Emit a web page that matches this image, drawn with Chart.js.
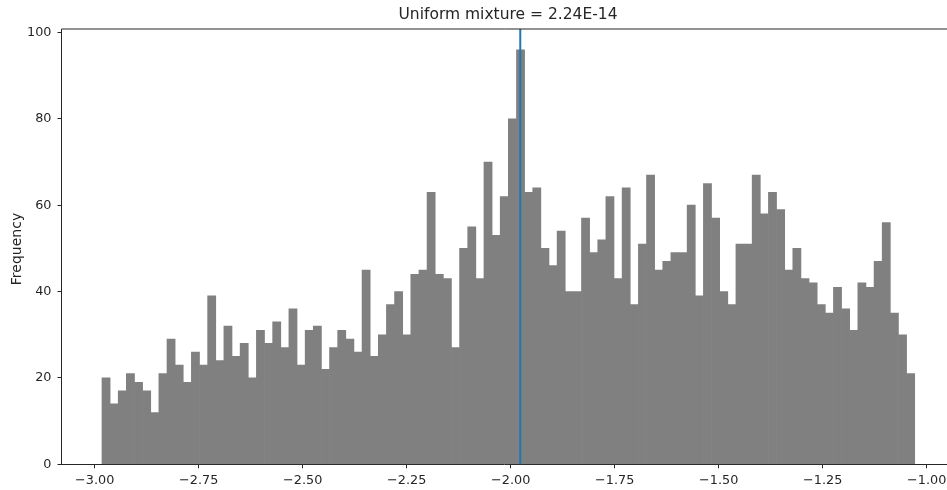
<!DOCTYPE html>
<html lang="en">
<head>
    <meta charset="UTF-8">
    <title>Uniform mixture</title>
    <style>
        body { margin: 0; background: #fff; }
        #wrap { width: 947px; height: 490px; }
    </style>
</head>
<body>
<script src="https://cdn.jsdelivr.net/npm/chart.js"></script>
<div id="wrap"><canvas id="hist"></canvas></div>

<script>
    // histogram counts, 100 equal bins between binLo and binHi
    var counts = [20, 14, 17, 21, 19, 17, 12, 21, 29, 23, 19, 26, 23, 39, 24, 32, 25, 28, 20, 31,
                  28, 33, 27, 36, 23, 31, 32, 22, 27, 31, 29, 26, 45, 25, 30, 37, 40, 30, 44, 45,
                  63, 44, 43, 27, 50, 55, 43, 70, 53, 62, 80, 96, 63, 64, 50, 46, 54, 40, 40, 57,
                  49, 52, 62, 43, 64, 37, 51, 67, 45, 47, 49, 49, 60, 39, 65, 57, 40, 37, 51, 51,
                  67, 58, 63, 59, 45, 50, 43, 42, 37, 35, 41, 36, 31, 42, 41, 47, 56, 35, 30, 21];
    var binLo = -2.9825;
    var binHi = -1.0288;
    var markerX = -1.977;   // vertical line
    var xTicks = [-3.00, -2.75, -2.50, -2.25, -2.00, -1.75, -1.50, -1.25, -1.00];
    var yTicks = [0, 20, 40, 60, 80, 100];
    var titleText = 'Uniform mixture = 2.24E-14';
    var yLabel = 'Frequency';

    var binW = (binHi - binLo) / counts.length;
    var points = [];
    for (var i = 0; i < counts.length; i++) {
        points.push({x: binLo + binW * (i + 0.5), y: counts[i]});
    }

    var FONT = 'DejaVu Sans';
    var INK = '#262626';

    function minusFmt(v, dec) {
        var s = Math.abs(v).toFixed(dec);
        return v < 0 ? '\u2212' + s : s;
    }

    var extras = {
        id: 'extras',
        afterDatasetsDraw: function (chart) {
            var ctx = chart.ctx, a = chart.chartArea, xs = chart.scales.x;
            ctx.save();
            // vertical marker
            var px = xs.getPixelForValue(markerX);
            ctx.strokeStyle = '#1f77b4';
            ctx.lineWidth = 2;
            ctx.beginPath();
            ctx.moveTo(px, a.top);
            ctx.lineTo(px, a.bottom);
            ctx.stroke();
            // top spine
            ctx.strokeStyle = INK;
            ctx.lineWidth = 1;
            ctx.beginPath();
            ctx.moveTo(a.left, a.top);
            ctx.lineTo(a.right, a.top);
            ctx.stroke();
            // title
            ctx.fillStyle = INK;
            ctx.font = '15.5px "' + FONT + '"';
            ctx.textAlign = 'center';
            ctx.textBaseline = 'middle';
            ctx.fillText(titleText, 508, 15);
            // y label
            ctx.font = '14px "' + FONT + '"';
            ctx.translate(17, 249);
            ctx.rotate(-Math.PI / 2);
            ctx.fillText(yLabel, 0, 0);
            ctx.restore();
        }
    };

    new Chart(document.getElementById('hist'), {
        type: 'bar',
        data: {
            datasets: [{
                label: yLabel,
                data: points,
                backgroundColor: '#808080',
                borderWidth: 0,
                barPercentage: 1,
                categoryPercentage: 1
            }]
        },
        plugins: [extras],
        options: {
            responsive: true,
            maintainAspectRatio: false,
            animation: false,
            layout: {padding: {top: 29, left: 0, right: 0, bottom: 0}},
            plugins: {
                legend: {display: false},
                title: {display: false},
                tooltip: {enabled: false}
            },
            scales: {
                x: {
                    type: 'linear',
                    offset: false,
                    min: -3.0798,
                    max: -0.9512,
                    afterFit: function (s) {
                        s.height = 25.7;
                        s.paddingLeft = 0;
                        s.paddingRight = 0;
                    },
                    afterBuildTicks: function (s) {
                        s.ticks = xTicks.map(function (v) { return {value: v}; });
                    },
                    grid: {offset: false, drawOnChartArea: false, tickLength: 4, color: INK, lineWidth: 1},
                    border: {color: INK, width: 1},
                    ticks: {
                        autoSkip: false,
                        maxRotation: 0,
                        padding: 5,
                        color: INK,
                        font: {family: FONT, size: 12.8},
                        callback: function (v) { return minusFmt(v, 2); }
                    }
                },
                y: {
                    min: 0,
                    max: 100.8,
                    afterFit: function (s) {
                        s.width = 61.5;
                        s.paddingTop = 0;
                        s.paddingBottom = 0;
                    },
                    afterBuildTicks: function (s) {
                        s.ticks = yTicks.map(function (v) { return {value: v}; });
                    },
                    grid: {drawOnChartArea: false, tickLength: 4, color: INK, lineWidth: 1},
                    border: {color: INK, width: 1},
                    ticks: {
                        padding: 6,
                        color: INK,
                        font: {family: FONT, size: 12.8},
                        callback: function (v) { return String(v); }
                    }
                }
            }
        }
    });
</script>
</body>
</html>
